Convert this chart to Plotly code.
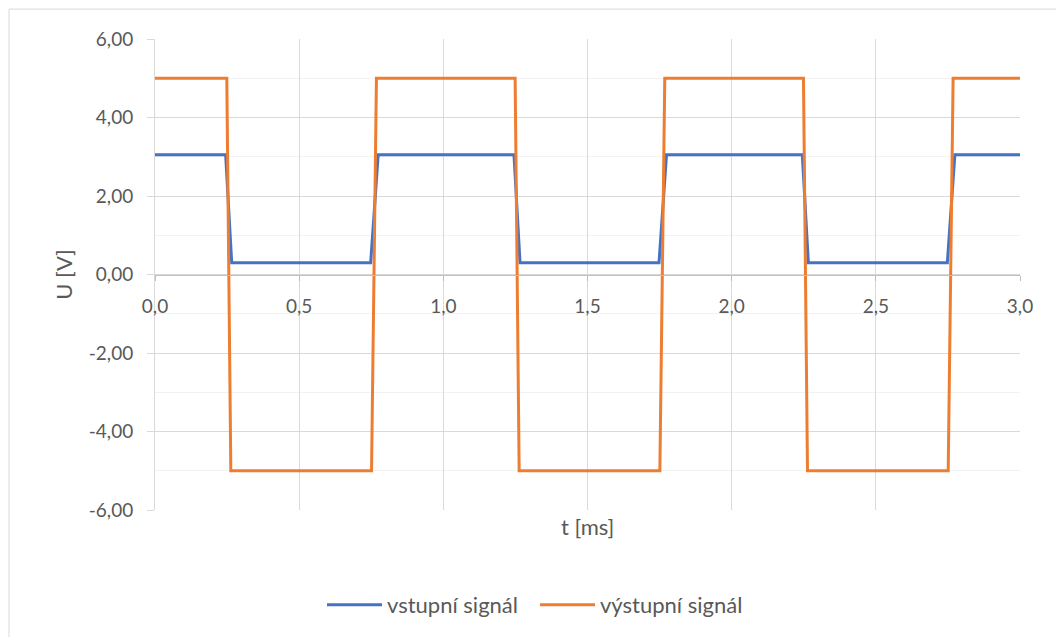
import plotly.graph_objects as go

# input signal (vstupní signál)
t_in = [0.0, 0.245, 0.266, 0.748, 0.774, 1.245, 1.266, 1.748, 1.774,
        2.245, 2.266, 2.748, 2.774, 3.0]
u_in = [3.05, 3.05, 0.3, 0.3, 3.05, 3.05, 0.3, 0.3, 3.05,
        3.05, 0.3, 0.3, 3.05, 3.05]

# output signal (výstupní signál)
t_out = [0.0, 0.249, 0.263, 0.751, 0.768, 1.249, 1.263, 1.751, 1.768,
         2.249, 2.263, 2.751, 2.768, 3.0]
u_out = [5, 5, -5, -5, 5, 5, -5, -5, 5, 5, -5, -5, 5, 5]

y_ticks = [-6, -4, -2, 0, 2, 4, 6]
y_labels = ["-6,00", "-4,00", "-2,00", "0,00", "2,00", "4,00", "6,00"]

W, H = 1056, 637
ml, mr, mt, mb = 155, 36, 39, 126
pw, ph = W - ml - mr, H - mt - mb

font = "Lato, 'Open Sans', sans-serif"
grey = "#595959"
fs = 19

fig = go.Figure()
fig.add_trace(go.Scatter(x=t_in, y=u_in, mode="lines", name="vstupní signál",
                         line=dict(color="#4472C4", width=3)))
fig.add_trace(go.Scatter(x=t_out, y=u_out, mode="lines", name="výstupní signál",
                         line=dict(color="#ED7D31", width=3)))

fig.update_layout(
    width=W, height=H,
    margin=dict(l=ml, r=mr, t=mt, b=mb),
    paper_bgcolor="white", plot_bgcolor="white",
    separators=", ",
    font=dict(family=font, size=fs, color=grey),
    legend=dict(orientation="h", x=(535 - ml) / pw, xanchor="center",
                y=(mt + ph - 605) / ph, yanchor="middle",
                itemwidth=55, entrywidth=143,
                font=dict(size=22, color=grey)),
    xaxis=dict(range=[0, 3], dtick=0.5, tickformat=".1f",
               anchor="free", position=0.5,
               showgrid=True, gridcolor="#d9d9d9", gridwidth=1,
               showline=True, linecolor="#bfbfbf", linewidth=1,
               ticks="outside", ticklen=5, tickcolor="#bfbfbf",
               ticklabelstandoff=10, zeroline=False),
    yaxis=dict(range=[-6, 6], tickvals=y_ticks, ticktext=y_labels,
               showgrid=True, gridcolor="#d9d9d9", gridwidth=1,
               minor=dict(dtick=1, showgrid=True, gridcolor="#f2f2f2"),
               showline=True, linecolor="#d9d9d9", linewidth=1,
               ticks="outside", ticklen=7, tickcolor="#d9d9d9",
               ticklabelstandoff=10, zeroline=False,
               title=dict(text="U [V]", standoff=10, font=dict(size=22))),
)

fig.add_annotation(text="t [ms]", xref="paper", yref="paper",
                   x=0.5, y=(mt + ph - 528) / ph, showarrow=False,
                   xanchor="center", yanchor="middle",
                   font=dict(size=22, color=grey))

# chart border
fig.add_shape(type="rect", xref="paper", yref="paper",
              x0=(9 - ml) / pw, x1=(W + 5 - ml) / pw,
              y0=(mt + ph - H - 5) / ph, y1=(mt + ph - 9) / ph,
              line=dict(color="#d9d9d9", width=1), layer="below")

fig.write_html("out.html", config={"displayModeBar": False},
               post_script="document.body.style.margin='0';")
